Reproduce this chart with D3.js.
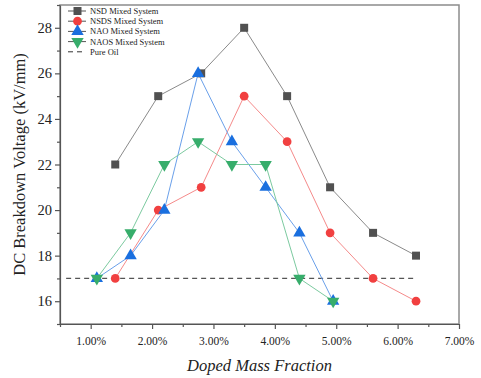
<!DOCTYPE html>
<html>
<head>
<meta charset="utf-8">
<script src="https://cdn.jsdelivr.net/npm/d3@7"></script>
<style>
  body { margin: 0; background: #fff; }
  svg text { font-family: "Liberation Serif", "Times New Roman", serif !important; }
</style>
</head>
<body>
<div id="chart"></div>
<script>
// data
const nsdX = [1.4, 2.1, 2.8, 3.5, 4.2, 4.9, 5.6, 6.3];
const nsdY = [22, 25, 26, 28, 25, 21, 19, 18];
const nsdsX = [1.4, 2.1, 2.8, 3.5, 4.2, 4.9, 5.6, 6.3];
const nsdsY = [17, 20, 21, 25, 23, 19, 17, 16];
const naoX = [1.1, 1.65, 2.2, 2.75, 3.3, 3.85, 4.4, 4.95];
const naoY = [17, 18, 20, 26, 23, 21, 19, 16];
const naosX = [1.1, 1.65, 2.2, 2.75, 3.3, 3.85, 4.4, 4.95];
const naosY = [17, 19, 22, 23, 22, 22, 17, 16];
const pureOil = 17;
const pureOilRange = [0.6, 6.3];
const xTicks = [1, 2, 3, 4, 5, 6, 7];
const yTicks = [16, 18, 20, 22, 24, 26, 28];

const seriesList = [
  { name: "NSD Mixed System", xs: nsdX, ys: nsdY, color: "#515151", line: "#8a8a8a", symbol: "square" },
  { name: "NSDS Mixed System", xs: nsdsX, ys: nsdsY, color: "#F14040", line: "#f58a8a", symbol: "circle" },
  { name: "NAO Mixed System", xs: naoX, ys: naoY, color: "#1A6FDF", line: "#6aa0ea", symbol: "up" },
  { name: "NAOS Mixed System", xs: naosX, ys: naosY, color: "#37AD6B", line: "#7ccaa0", symbol: "down" },
];

const dimensions = {
  width: 481,
  height: 378,
  margin: { top: 5, right: 22, bottom: 54, left: 60 },
};
dimensions.boundedWidth = dimensions.width - dimensions.margin.left - dimensions.margin.right;
dimensions.boundedHeight = dimensions.height - dimensions.margin.top - dimensions.margin.bottom;

const wrapper = d3.select("#chart")
  .append("svg")
    .attr("width", dimensions.width)
    .attr("height", dimensions.height);

const bounds = wrapper.append("g")
    .attr("transform", `translate(${dimensions.margin.left}, ${dimensions.margin.top})`);

const xScale = d3.scaleLinear()
  .domain([0.5, 7])
  .range([0, dimensions.boundedWidth]);

const yScale = d3.scaleLinear()
  .domain([15, 29])
  .range([dimensions.boundedHeight, 0]);

// frame
bounds.append("rect")
  .attr("width", dimensions.boundedWidth)
  .attr("height", dimensions.boundedHeight)
  .attr("fill", "none")
  .attr("stroke", "#8c8c8c")
  .attr("stroke-width", 1.5);

// x axis
const xAxis = bounds.append("g")
  .attr("transform", `translate(0, ${dimensions.boundedHeight})`)
  .call(d3.axisBottom(xScale).tickValues(xTicks).tickSize(5).tickSizeOuter(0)
    .tickFormat(d => d3.format(".2f")(d) + "%"));
bounds.append("g")
  .attr("transform", `translate(0, ${dimensions.boundedHeight})`)
  .call(d3.axisBottom(xScale).tickValues(d3.range(0.5, 7, 1)).tickSize(3).tickFormat(""))
  .call(g => g.select(".domain").remove());

// y axis
const yAxis = bounds.append("g")
  .call(d3.axisLeft(yScale).tickValues(yTicks).tickSize(5).tickSizeOuter(0));
bounds.append("g")
  .call(d3.axisLeft(yScale).tickValues(d3.range(15, 30, 2)).tickSize(3).tickFormat(""))
  .call(g => g.select(".domain").remove());

bounds.selectAll(".domain, .tick line")
  .attr("stroke", "#555")
  .attr("stroke-width", 1.2);
xAxis.selectAll(".tick text")
  .attr("font-size", 11.5)
  .attr("fill", "#222")
  .attr("dy", "1.1em");
yAxis.selectAll(".tick text")
  .attr("font-size", 14.5)
  .attr("fill", "#222")
  .attr("x", -8);

// axis titles
wrapper.append("text")
  .attr("transform", `translate(25, ${dimensions.margin.top + dimensions.boundedHeight / 2}) rotate(-90)`)
  .attr("text-anchor", "middle")
  .attr("font-size", 16.5)
  .attr("fill", "#222")
  .text("DC Breakdown Voltage (kV/mm)");

wrapper.append("text")
  .attr("x", dimensions.margin.left + dimensions.boundedWidth / 2)
  .attr("y", 371)
  .attr("text-anchor", "middle")
  .attr("font-size", 16.5)
  .attr("font-style", "italic")
  .attr("fill", "#222")
  .text("Doped Mass Fraction");

// pure oil reference line
bounds.append("line")
  .attr("x1", xScale(pureOilRange[0]))
  .attr("x2", xScale(pureOilRange[1]))
  .attr("y1", yScale(pureOil))
  .attr("y2", yScale(pureOil))
  .attr("stroke", "#555")
  .attr("stroke-width", 1.2)
  .attr("stroke-dasharray", "5,4");

const symbolFor = s => ({
  square: d3.symbol().type(d3.symbolSquare).size(64),
  circle: d3.symbol().type(d3.symbolCircle).size(60),
  up: d3.symbol().type(d3.symbolTriangle).size(66),
  down: d3.symbol().type(d3.symbolTriangle).size(66),
})[s];

const line = d3.line()
  .x(d => xScale(d[0]))
  .y(d => yScale(d[1]));

seriesList.forEach(s => {
  const pts = s.xs.map((x, i) => [x, s.ys[i]]);
  bounds.append("path")
    .attr("d", line(pts))
    .attr("fill", "none")
    .attr("stroke", s.line)
    .attr("stroke-width", 1);
});

seriesList.forEach(s => {
  const pts = s.xs.map((x, i) => [x, s.ys[i]]);
  bounds.append("g")
    .selectAll("path")
    .data(pts)
    .join("path")
      .attr("transform", d => `translate(${xScale(d[0])}, ${yScale(d[1])})${s.symbol === "down" ? " rotate(180)" : ""}`)
      .attr("d", symbolFor(s.symbol)())
      .attr("fill", s.color);
});

// legend
const legend = bounds.append("g")
  .attr("transform", "translate(8, 6)");
const legendItems = seriesList.map(s => ({ name: s.name, color: s.color, symbol: s.symbol }))
  .concat([{ name: "Pure Oil", color: null, symbol: null }]);

legendItems.forEach((item, i) => {
  const g = legend.append("g").attr("transform", `translate(0, ${i * 10.2})`);
  g.append("line")
    .attr("x1", 0).attr("x2", 18)
    .attr("stroke", item.symbol ? "#555" : "#333")
    .attr("stroke-width", 1)
    .attr("stroke-dasharray", item.symbol ? null : "5,4");
  if (item.symbol) {
    g.append("path")
      .attr("transform", `translate(9.5, 0)${item.symbol === "down" ? " rotate(180)" : ""}`)
      .attr("d", symbolFor(item.symbol)())
      .attr("fill", item.color);
  }
  g.append("text")
    .attr("x", 22)
    .attr("dy", "0.35em")
    .attr("font-size", 8.5)
    .attr("fill", "#222")
    .text(item.name);
});
</script>
</body>
</html>
